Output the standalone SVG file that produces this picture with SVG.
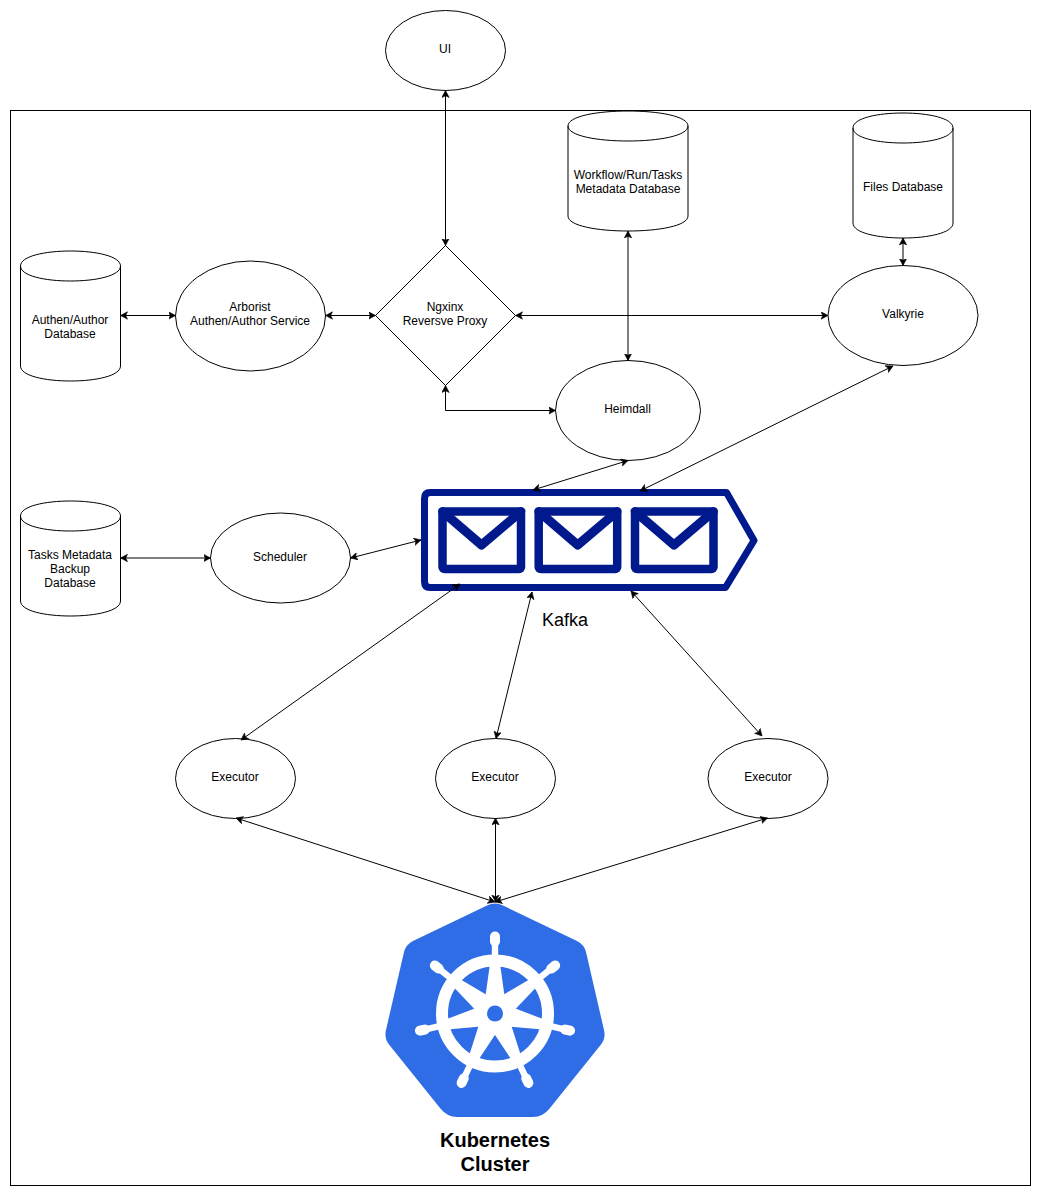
<svg xmlns="http://www.w3.org/2000/svg" xmlns:xlink="http://www.w3.org/1999/xlink" width="1041" height="1196" viewBox="0 0 1041 1196">
<style>
.s{fill:#fff;stroke:#000;stroke-width:1}
.o{fill:none;stroke:#000;stroke-width:1}
.t{font-family:"Liberation Sans",Arial,sans-serif;font-size:12px;text-anchor:middle;fill:#000}
.c path,.c line{fill:none;stroke:#000;stroke-width:1;marker-start:url(#a);marker-end:url(#a)}
.nv{fill:none;stroke:#001a8e;stroke-linejoin:round;stroke-linecap:round}
.w{fill:#fff}
</style>
<defs>
<marker id="a" markerUnits="userSpaceOnUse" markerWidth="10" markerHeight="10" refX="7" refY="4" orient="auto-start-reverse"><path d="M0,0.3L7,4L0,7.7L1.8,4Z" fill="#000" stroke="#000" stroke-width="0.6"/></marker>
<g id="spoke"><path class="w" d="M-5,-50L5,-50L10,-14L-10,-14Z"/><path class="w" d="M-3.2,-57L3.2,-57L3.2,-72L-3.2,-72Z"/><line x1="0" y1="-72" x2="0" y2="-77" stroke="#fff" stroke-width="10" stroke-linecap="round"/></g>
<g id="env"><rect class="nv" x="0" y="0" width="78.5" height="57.5" rx="2" stroke-width="8.5"/><path class="nv" stroke-width="9" d="M0,0L39,33.5L78.5,0"/></g>
</defs>
<rect width="1041" height="1196" fill="#fff"/>
<rect id="frame" class="s" x="10.5" y="110.5" width="1020" height="1075"/>
<g id="ui"><ellipse class="s" cx="445.5" cy="50.5" rx="60" ry="40"/><text class="t" x="445" y="53">UI</text></g>
<g id="workflow-db"><path class="s" d="M568,126C568,106 688,106 688,126L688,216C688,236 568,236 568,216Z"/><path class="o" d="M568,126C568,146 688,146 688,126"/><text class="t" x="628" y="179">Workflow/Run/Tasks</text><text class="t" x="628" y="193">Metadata Database</text></g>
<g id="files-db"><path class="s" d="M853,128C853,108 953,108 953,128L953,223C953,243 853,243 853,223Z"/><path class="o" d="M853,128C853,148 953,148 953,128"/><text class="t" x="903" y="191">Files Database</text></g>
<g id="auth-db"><path class="s" d="M20.5,266C20.5,246 120.5,246 120.5,266L120.5,366C120.5,386 20.5,386 20.5,366Z"/><path class="o" d="M20.5,266C20.5,286 120.5,286 120.5,266"/><text class="t" x="70" y="324">Authen/Author</text><text class="t" x="70" y="338">Database</text></g>
<g id="arborist"><ellipse class="s" cx="250.5" cy="316" rx="75" ry="55"/><text class="t" x="250" y="311">Arborist</text><text class="t" x="250" y="325">Authen/Author Service</text></g>
<g id="nginx"><path class="s" d="M445.5,245.5L515.5,315.5L445.5,385.5L375.5,315.5Z"/><text class="t" x="445" y="311">Ngxinx</text><text class="t" x="445" y="325">Reversve Proxy</text></g>
<g id="valkyrie"><ellipse class="s" cx="903" cy="315.5" rx="75" ry="50"/><text class="t" x="903" y="318">Valkyrie</text></g>
<g id="heimdall"><ellipse class="s" cx="628" cy="410.5" rx="72.5" ry="50"/><text class="t" x="627.5" y="413">Heimdall</text></g>
<g id="tasks-db"><path class="s" d="M20.5,516C20.5,496 120.5,496 120.5,516L120.5,601C120.5,621 20.5,621 20.5,601Z"/><path class="o" d="M20.5,516C20.5,536 120.5,536 120.5,516"/><text class="t" x="70" y="559">Tasks Metadata</text><text class="t" x="70" y="573">Backup</text><text class="t" x="70" y="587">Database</text></g>
<g id="scheduler"><ellipse class="s" cx="280.5" cy="558" rx="70" ry="45"/><text class="t" x="280" y="561">Scheduler</text></g>
<g id="kafka">
<path class="nv" stroke-width="7" d="M430,492.5L726.5,492.5L754,540.5L725.5,587.5L430,587.5Q424.5,587.5 424.5,581.5L424.5,498.5Q424.5,492.5 430,492.5Z"/>
<use xlink:href="#env" href="#env" x="442.5" y="511.5"/>
<use xlink:href="#env" href="#env" x="538.7" y="511.5"/>
<use xlink:href="#env" href="#env" x="635" y="511.5"/>
<text x="565" y="626" font-family="Liberation Sans,Arial,sans-serif" font-size="18" text-anchor="middle">Kafka</text>
</g>
<g id="executor-1"><ellipse class="s" cx="235.5" cy="778.5" rx="60" ry="40"/><text class="t" x="235" y="781">Executor</text></g>
<g id="executor-2"><ellipse class="s" cx="495.5" cy="778.5" rx="60" ry="40"/><text class="t" x="495" y="781">Executor</text></g>
<g id="executor-3"><ellipse class="s" cx="768" cy="778.5" rx="60" ry="40"/><text class="t" x="768" y="781">Executor</text></g>
<g id="kubernetes">
<path fill="#2f6de6" d="M487,905.5Q495,901.5 503,905.5L577,941Q584,944.5 586,952L604,1030Q606,1038 601,1044.5L550,1108Q543,1117 533,1117L457,1117Q447,1117 440,1108L389,1044.5Q384,1038 386,1030L404,952Q406,944.5 413,941Z"/>
<g transform="translate(495,1013.5)">
<circle r="53" fill="none" stroke="#fff" stroke-width="12"/>
<circle r="20" class="w"/>
<use xlink:href="#spoke" href="#spoke"/>
<use xlink:href="#spoke" href="#spoke" transform="rotate(51.43)"/>
<use xlink:href="#spoke" href="#spoke" transform="rotate(102.86)"/>
<use xlink:href="#spoke" href="#spoke" transform="rotate(154.29)"/>
<use xlink:href="#spoke" href="#spoke" transform="rotate(205.71)"/>
<use xlink:href="#spoke" href="#spoke" transform="rotate(257.14)"/>
<use xlink:href="#spoke" href="#spoke" transform="rotate(308.57)"/>
<circle r="8" fill="#2f6de6"/>
</g>
<text x="495" y="1147" font-family="Liberation Sans,Arial,sans-serif" font-size="20" font-weight="bold" text-anchor="middle">Kubernetes</text>
<text x="495" y="1171" font-family="Liberation Sans,Arial,sans-serif" font-size="20" font-weight="bold" text-anchor="middle">Cluster</text>
</g>
<g id="connectors" class="c">
<line x1="445.5" y1="90.5" x2="445.5" y2="245.5"/>
<line x1="628" y1="231" x2="628" y2="360.5"/>
<line x1="903" y1="238" x2="903" y2="265.5"/>
<line x1="120.5" y1="315.5" x2="175.5" y2="315.5"/>
<line x1="325.5" y1="315.5" x2="375.5" y2="315.5"/>
<line x1="515.5" y1="315.5" x2="828" y2="315.5"/>
<path d="M445.5,385.5L445.5,410.5L555.5,410.5"/>
<line x1="628" y1="460.5" x2="533" y2="490"/>
<line x1="893" y1="366" x2="640" y2="491"/>
<line x1="120.5" y1="558" x2="210.5" y2="558"/>
<line x1="350.5" y1="558" x2="421" y2="540"/>
<line x1="460" y1="584" x2="241" y2="740"/>
<line x1="532" y1="592" x2="496" y2="738.5"/>
<line x1="631" y1="591" x2="762" y2="736"/>
<line x1="236" y1="818" x2="495" y2="902"/>
<line x1="495.5" y1="818" x2="495.5" y2="902"/>
<line x1="767.5" y1="818" x2="495" y2="902"/>
</g>
</svg>
